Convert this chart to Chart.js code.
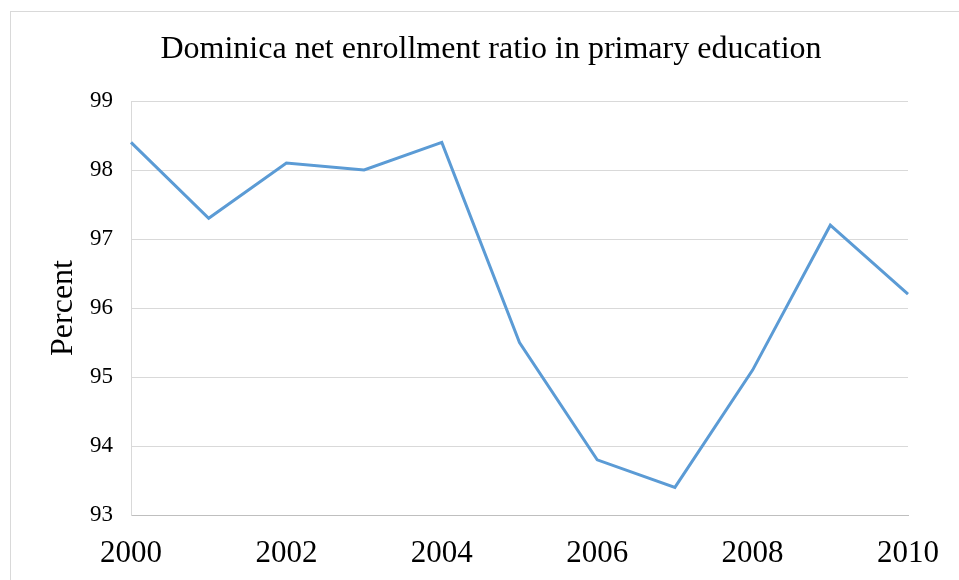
<!DOCTYPE html>
<html>
<head>
<meta charset="utf-8">
<title>Dominica net enrollment ratio in primary education</title>
<script src="https://cdn.jsdelivr.net/npm/chart.js@4"></script>
<style>
    html, body { margin: 0; padding: 0; background: #fff; }
    #wrap { width: 959px; height: 580px; }
</style>
</head>
<body>
<div id="wrap"><canvas id="enrollmentChart" width="959" height="580"></canvas></div>
<script>
const chartTitle = 'Dominica net enrollment ratio in primary education'
const years = ['2000', '2001', '2002', '2003', '2004', '2005', '2006', '2007', '2008', '2009', '2010']
const netEnrollment = [98.4, 97.3, 98.1, 98.0, 98.4, 95.5, 93.8, 93.4, 95.1, 97.2, 96.2]
const yTicks = [93, 94, 95, 96, 97, 98, 99]

const serif = "'Liberation Serif', 'Times New Roman', serif"

// light grey frame round the chart (runs off the right and bottom edges),
// title centred on that frame rather than on the plot
const frame = {
    id: 'frame',
    beforeDraw(chart) {
        const c = chart.ctx
        c.save()
        c.fillStyle = '#fff'
        c.fillRect(0, 0, chart.width, chart.height)
        c.strokeStyle = '#d9d9d9'
        c.lineWidth = 1
        c.strokeRect(10.5, 11.5, chart.width + 20, chart.height + 20)

        c.fillStyle = '#000'
        c.font = '32px ' + serif
        c.textAlign = 'center'
        c.textBaseline = 'alphabetic'
        c.fillText(chartTitle, 491, 58)
        c.restore()
    }
}

const init = () => {
    const ctx = document.getElementById('enrollmentChart')

    new Chart(ctx, {
        type: 'line',
        data: {
            labels: years,
            datasets: [{
                label: 'Net enrollment ratio',
                data: netEnrollment,
                borderColor: '#5b9bd5',
                borderWidth: 3,
                pointRadius: 0,
                tension: 0,
                fill: false,
            }]
        },
        options: {
            responsive: false,
            animation: false,
            layout: {
                padding: {left: 40, right: 50, top: 101, bottom: 0}
            },
            plugins: {
                legend: {display: false},
                tooltip: {enabled: false},
                title: {display: false},
            },
            scales: {
                x: {
                    offset: false,
                    grid: {display: false, drawTicks: false},
                    border: {display: true, color: '#bfbfbf', width: 1},
                    ticks: {
                        autoSkip: false,
                        maxRotation: 0,
                        padding: 20,
                        color: '#000',
                        font: {family: serif, size: 31},
                        callback: (val, i) => i % 2 === 0 ? years[i] : '',
                    },
                    afterFit: (scale) => { scale.height = 65 },
                },
                y: {
                    min: 93,
                    max: 99,
                    afterBuildTicks: (scale) => {
                        scale.ticks = yTicks.map(v => ({value: v}))
                    },
                    grid: {color: '#d9d9d9', lineWidth: 1, drawTicks: false},
                    border: {display: true, color: '#d9d9d9', width: 1},
                    ticks: {
                        padding: 18,
                        color: '#000',
                        font: {family: serif, size: 23},
                    },
                    title: {
                        display: true,
                        text: 'Percent',
                        color: '#000',
                        font: {family: serif, size: 32},
                        padding: {top: 4, bottom: 4},
                    },
                    afterFit: (scale) => { scale.width = 91 },
                }
            }
        },
        plugins: [frame]
    })
}

document.addEventListener('DOMContentLoaded', init)
</script>
</body>
</html>
